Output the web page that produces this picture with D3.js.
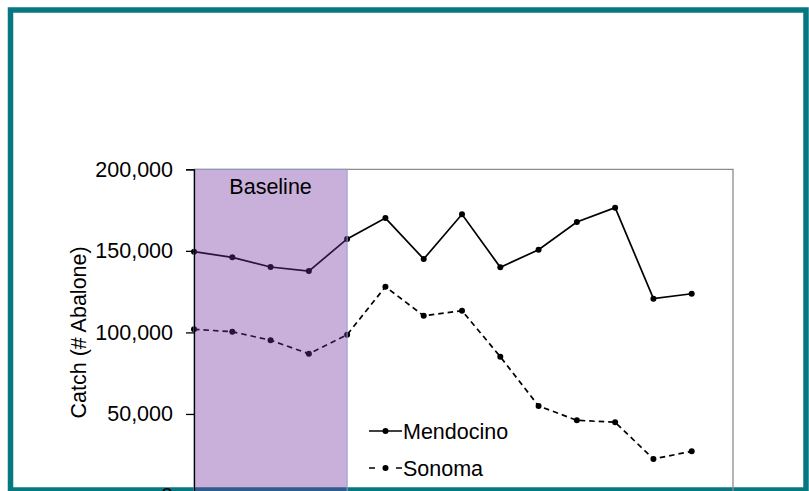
<!DOCTYPE html>
<html>
<head>
<meta charset="utf-8">
<script src="https://cdn.jsdelivr.net/npm/d3@7"></script>
<style>
  html, body { margin: 0; padding: 0; background: #fff; }
  svg { display: block; font-family: "Liberation Sans", Arial, sans-serif; }
</style>
</head>
<body>
<svg id="chart" width="809" height="491"></svg>
<script>
// Season index along the x axis (15 slots, data for the first 14)
const seasons = [0, 1, 2, 3, 4, 5, 6, 7, 8, 9, 10, 11, 12, 13];
const slotCount = 15;

// Abalone catch per season
const mendocino = [149500, 146000, 140100, 137600, 157300, 170100, 145000, 172400, 139900, 150700, 167700, 176500, 120700, 123700];
const sonoma    = [101900, 100400, 95200, 86900, 98600, 128000, 110200, 113300, 85100, 54900, 46100, 44900, 22400, 27100];

// Baseline period spans these season indices
const baselineSpan = [0, 4];
const baselineLabel = "Baseline";

const yTicks = [0, 50000, 100000, 150000, 200000];
const yTitle = "Catch (# Abalone)";
const seriesNames = ["Mendocino", "Sonoma"];

const svg = d3.select("#chart");

const plotLeft = 194, plotRight = 733, plotTop = 169.3, plotBottom = 495.5;

const x = d3.scaleLinear().domain([0, slotCount - 1]).range([plotLeft, 730]);
const y = d3.scaleLinear().domain([0, 200000]).range([plotBottom, plotTop]);

// Outer teal frame
svg.append("rect")
  .attr("x", 10.5).attr("y", 10).attr("width", 795.5).attr("height", 480)
  .attr("fill", "none").attr("stroke", "#077882").attr("stroke-width", 5.5);

// Plot area frame (top and right)
svg.append("path")
  .attr("d", `M${plotLeft},${plotTop}H${plotRight}V${plotBottom}`)
  .attr("fill", "none").attr("stroke", "#8c8c8c").attr("stroke-width", 1.3);

const line = d3.line().x((d, i) => x(seasons[i])).y(d => y(d));

function drawSeries(values, dash) {
  svg.append("path")
    .datum(values)
    .attr("d", line)
    .attr("fill", "none")
    .attr("stroke", "#000")
    .attr("stroke-width", 1.7)
    .attr("stroke-dasharray", dash);
  svg.append("g").selectAll("circle")
    .data(values)
    .join("circle")
    .attr("cx", (d, i) => x(seasons[i]))
    .attr("cy", d => y(d))
    .attr("r", 3)
    .attr("fill", "#000");
}

drawSeries(mendocino, null);
drawSeries(sonoma, "5.5,4");

// Baseline shading, translucent over the lines
svg.append("rect")
  .attr("x", x(baselineSpan[0]))
  .attr("y", plotTop)
  .attr("width", x(baselineSpan[1]) - x(baselineSpan[0]))
  .attr("height", plotBottom - plotTop)
  .attr("fill", "#7030A0").attr("fill-opacity", 0.38)
  .attr("stroke", "#8fa3c6").attr("stroke-width", 1);

svg.append("text")
  .attr("x", x((baselineSpan[0] + baselineSpan[1]) / 2))
  .attr("y", 194)
  .attr("text-anchor", "middle")
  .attr("font-size", 21.5)
  .attr("fill", "#000")
  .text(baselineLabel);

// Y axis
const yAxis = svg.append("g")
  .attr("transform", `translate(${plotLeft},0)`)
  .call(d3.axisLeft(y).tickValues(yTicks).tickSize(8).tickPadding(13)
    .tickFormat(d3.format(",")));
yAxis.select(".domain").attr("stroke", "#000").attr("stroke-width", 1.3);
yAxis.selectAll(".tick line").attr("stroke", "#000").attr("stroke-width", 1.3);
yAxis.selectAll(".tick text")
  .attr("font-size", 21.5)
  .attr("font-family", "Liberation Sans, Arial, sans-serif")
  .attr("fill", "#000");

svg.append("text")
  .attr("transform", `translate(86,${(plotTop + plotBottom) / 2}) rotate(-90)`)
  .attr("text-anchor", "middle")
  .attr("font-size", 21.5)
  .attr("fill", "#000")
  .text(yTitle);

// Legend: solid sample for Mendocino, "- • -" sample for Sonoma
const legend = svg.append("g");
const legendRows = [
  { name: seriesNames[0], dash: null, ly: 431 },
  { name: seriesNames[1], dash: "6,21,6", ly: 468 }
];
legendRows.forEach(r => {
  legend.append("line")
    .attr("x1", 369).attr("x2", 402).attr("y1", r.ly).attr("y2", r.ly)
    .attr("stroke", "#000").attr("stroke-width", 1.7)
    .attr("stroke-dasharray", r.dash);
  legend.append("circle")
    .attr("cx", 385.5).attr("cy", r.ly).attr("r", 3).attr("fill", "#000");
  legend.append("text")
    .attr("x", 403).attr("y", r.ly + 8)
    .attr("font-size", 21.5).attr("fill", "#000")
    .text(r.name);
});
</script>
</body>
</html>
